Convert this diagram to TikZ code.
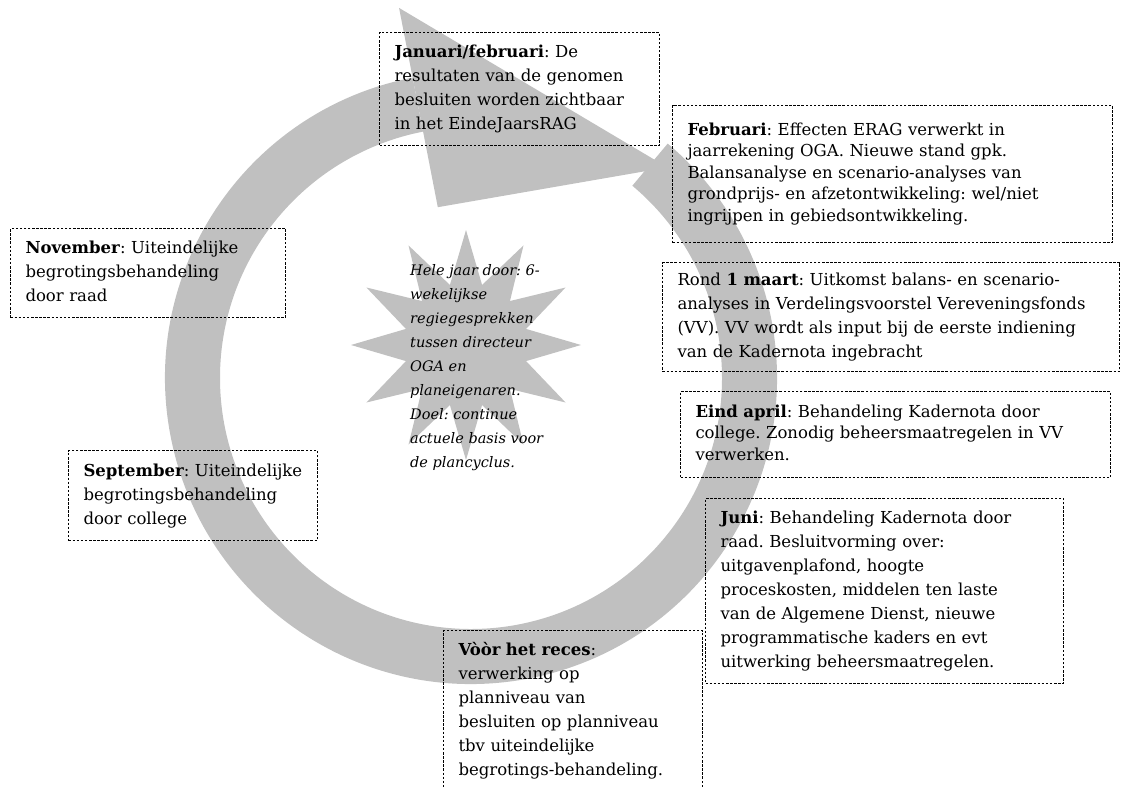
\documentclass[tikz,border=0pt]{standalone}
\usepackage{fontspec}
\setmainfont{DejaVu Serif}
\usetikzlibrary{shapes.geometric}
\definecolor{ringgray}{RGB}{192,192,192}
\newcommand{\boxlines}[1]{\begin{tabular}{@{}l@{}}#1\end{tabular}}
\frenchspacing
\begin{document}
\begin{tikzpicture}[x=1pt,y=1pt,
  box/.style={draw=black, line width=1pt, dash pattern=on 2.5pt off 1.6pt,
    anchor=north west, align=left, inner xsep=15pt, inner ysep=0pt,
    font=\fontsize{16.5}{24}\selectfont},
  tight/.style={font=\fontsize{16.5}{21.5}\selectfont},
  startext/.style={anchor=north west, inner sep=0pt, align=left,
    font=\itshape\fontsize{14.5}{24}\selectfont}
]
\useasboundingbox (0,0) rectangle (1128,-787);
\coordinate (C) at (471,-378);
% circular arrow
\fill[ringgray] ([shift={(101:306)}]C) arc[start angle=101,end angle=410,radius=306]
  -- ([shift={(50:251)}]C) arc[start angle=410,end angle=101,radius=251] -- cycle;
\fill[ringgray] ([shift={(101:377)}]C) -- ([shift={(47:288)}]C) -- ([shift={(101:174)}]C) -- cycle;
% star
\node[star, star points=12, star point ratio=1.85, minimum size=230pt, inner sep=0pt, fill=ringgray] (star) at (466,-345) {};
\node[startext] (year) at (410,-264) {Hele jaar door: 6-\\wekelijkse\\regiegesprekken\\tussen directeur\\OGA en\\planeigenaren.\\Doel: continue\\actuele basis voor\\de plancyclus.};
% boxes
\node[box, minimum width=280pt, text width=250pt, minimum height=113pt] (jan) at (379,-32)
  {\boxlines{\textbf{Januari/februari}: De\\resultaten van de genomen\\besluiten worden zichtbaar\\in het EindeJaarsRAG}};
\node[box, tight, minimum width=440pt, text width=410pt, minimum height=137pt] (feb) at (672,-105)
  {\boxlines{\textbf{Februari}: Effecten ERAG verwerkt in\\jaarrekening OGA. Nieuwe stand gpk.\\Balansanalyse en scenario-analyses van\\grondprijs- en afzetontwikkeling: wel/niet\\ingrijpen in gebiedsontwikkeling.}};
\node[box, minimum width=275pt, text width=245pt, minimum height=89pt] (nov) at (10,-228)
  {\boxlines{\textbf{November}: Uiteindelijke\\begrotingsbehandeling\\door raad}};
\node[box, minimum width=457pt, text width=427pt, minimum height=109pt] (mrt) at (662,-262)
  {\boxlines{Rond \textbf{1 maart}: Uitkomst balans- en scenario-\\analyses in Verdelingsvoorstel Vereveningsfonds\\(VV). VV wordt als input bij de eerste indiening\\van de Kadernota ingebracht}};
\node[box, tight, minimum width=430pt, text width=400pt, minimum height=86pt] (apr) at (680,-391)
  {\boxlines{\textbf{Eind april}: Behandeling Kadernota door\\college. Zonodig beheersmaatregelen in VV\\verwerken.}};
\node[box, minimum width=249pt, text width=219pt, minimum height=90pt] (sep) at (68,-450)
  {\boxlines{\textbf{September}: Uiteindelijke\\begrotingsbehandeling\\door college}};
\node[box, minimum width=358pt, text width=328pt, minimum height=185pt] (jun) at (705,-498)
  {\boxlines{\textbf{Juni}: Behandeling Kadernota door\\raad. Besluitvorming over:\\uitgavenplafond, hoogte\\proceskosten, middelen ten laste\\van de Algemene Dienst, nieuwe\\programmatische kaders en evt\\uitwerking beheersmaatregelen.}};
\node[box, minimum width=259pt, text width=229pt, minimum height=160pt] (rec) at (443,-630)
  {\boxlines{\textbf{Vòòr het reces}:\\verwerking op\\planniveau van\\besluiten op planniveau\\tbv uiteindelijke\\begrotings-behandeling.}};
\end{tikzpicture}
\end{document}
